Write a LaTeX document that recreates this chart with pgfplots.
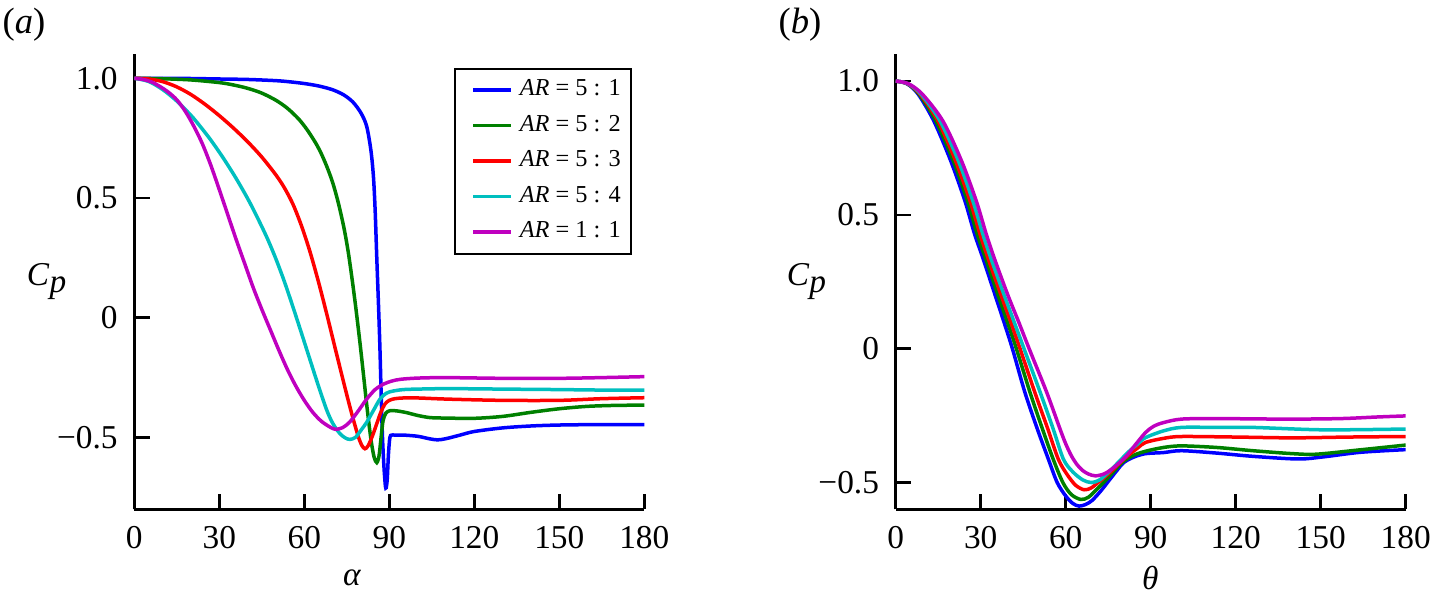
\documentclass[border=0pt]{standalone}
\usepackage{fontspec}
\setmainfont{Liberation Serif}
\usepackage{pgfplots}
\pgfplotsset{compat=1.18}

\definecolor{cblue}{rgb}{0,0,1}
\definecolor{cgreen}{rgb}{0,0.5,0}
\definecolor{cred}{rgb}{1,0,0}
\definecolor{ccyan}{rgb}{0,0.75,0.75}
\definecolor{cmag}{rgb}{0.75,0,0.75}

\newcommand{\Cp}{\textit{C}\raisebox{-2.2pt}{\fontsize{10}{12}\selectfont\textit{p}}}

\pgfplotsset{
  cpaxis/.style={
    scale only axis, width=153pt, height=136.5pt,
    axis lines=left,
    axis line style={-, line width=0.8pt, black},
    xmin=0, xmax=180, ymax=1.1,
    xtick={0,30,...,180},
    ytick={-0.5,0,0.5,1}, yticklabels={−0.5,0,0.5,1.0},
    tick align=inside, major tick length=4.7pt,
    every tick/.style={black, line width=0.8pt},
    tick label style={font=\fontsize{10}{12}\selectfont},
    /pgf/number format/assume math mode=true,
    xticklabel style={yshift=-1.5pt},
    yticklabel style={xshift=-1.5pt},
    every axis plot/.append style={line width=1.05pt, smooth, no markers},
    label style={font=\fontsize{12}{14}\selectfont},
  },
}

\begin{document}
\begin{tikzpicture}
\path[use as bounding box] (0,0) rectangle (429pt,180.6pt);

% panel labels
\node[anchor=west, inner sep=0pt, font=\fontsize{11}{13}\selectfont] at (0.6pt,173.1pt) {(\textit{a})};
\node[anchor=west, inner sep=0pt, font=\fontsize{11}{13}\selectfont] at (233.4pt,173.1pt) {(\textit{b})};

% (a) pressure coefficient against alpha
\begin{axis}[cpaxis,
  at={(40.29pt,27.81pt)}, anchor=south west,
  ymin=-0.8,
  xlabel={\textit{α}}, ylabel={\Cp},
  every axis x label/.style={at={(axis description cs:0.427,-0.151)}, anchor=center},
  every axis y label/.style={at={(axis description cs:-0.172,0.50)}, anchor=center},
  legend style={at={(0.976,0.971)}, anchor=north east, draw=black, line width=0.6pt,
    font=\fontsize{7.3}{8}\selectfont, inner xsep=3.1pt, inner ysep=3.1pt,
    row sep=3.95pt, column sep=2.1pt,
    nodes={inner sep=0pt, text height=5pt, text depth=1.7pt}},
  legend cell align=left,
  legend image code/.code={\path (-1.7pt,0pt); \draw[#1] (0pt,0pt) -- (11.4pt,0pt);},
]
\addplot[cblue] coordinates {
(0,1.0) (10,1.0) (20,0.999) (30,0.997) (40,0.995) (50,0.99) (55,0.985)
(60,0.978) (65,0.968) (70,0.952) (74,0.93) (77.2,0.90) (80,0.855) (82,0.80)
(83.5,0.70) (84.4,0.59) (85,0.45) (85.6,0.244) (86.2,0.05) (86.7,-0.13)
(87.2,-0.35) (87.6,-0.50) (88.1,-0.62) (88.6,-0.70) (88.9,-0.71) (89.3,-0.67)
(89.7,-0.57) (90.2,-0.50) (90.8,-0.49) (92,-0.49) (95,-0.49) (100,-0.495)
(104,-0.505) (107,-0.51) (110,-0.505) (115,-0.49) (120,-0.475) (130,-0.46)
(140,-0.452) (150,-0.448) (165,-0.446) (180,-0.446)
};
\addlegendentry{\textit{AR} = 5 : 1}
\addplot[cgreen] coordinates {
(0,1.0) (10,0.998) (20,0.993) (30,0.982) (35,0.972) (40,0.958) (45,0.938)
(50,0.908) (54,0.875) (58,0.83) (61,0.785) (64,0.73) (66,0.685) (68,0.63)
(70,0.565) (72,0.48) (74,0.375) (75.5,0.275) (77,0.15) (78.3,0.03) (79.7,-0.11)
(81,-0.25) (82,-0.36) (83,-0.46) (83.8,-0.53) (84.7,-0.585) (85.6,-0.605)
(86.4,-0.575) (87.1,-0.50) (87.8,-0.43) (88.8,-0.398) (90.3,-0.388)
(92.6,-0.389) (96,-0.396) (100,-0.408) (104.4,-0.417) (110,-0.419) (120,-0.42)
(130,-0.412) (140,-0.395) (150,-0.38) (160,-0.37) (170,-0.366) (180,-0.365)
};
\addlegendentry{\textit{AR} = 5 : 2}
\addplot[cred] coordinates {
(0,1.0) (5,0.997) (10,0.986) (15,0.964) (20,0.932) (25,0.891) (30,0.844)
(35,0.792) (40,0.735) (45,0.671) (50,0.596) (53,0.542) (56,0.474) (59,0.384)
(62,0.276) (65,0.15) (68,0.012) (70.2,-0.094) (72.5,-0.204) (75,-0.322)
(77,-0.412) (79,-0.494) (80.3,-0.533) (81.4,-0.547) (82.5,-0.535) (84,-0.495)
(85.5,-0.445) (87,-0.395) (88.5,-0.36) (90,-0.345) (92,-0.338) (95,-0.335)
(100,-0.335) (111,-0.34) (130,-0.345) (150,-0.345) (165,-0.338) (180,-0.334)
};
\addlegendentry{\textit{AR} = 5 : 3}
\addplot[ccyan] coordinates {
(0,1.0) (5,0.987) (10,0.953) (15,0.905) (20,0.845) (23.2,0.80) (27,0.742)
(31,0.674) (35,0.60) (38,0.54) (40.9,0.478) (44,0.405) (47,0.33) (50,0.245)
(53,0.15) (56,0.045) (59.7,-0.09) (62,-0.175) (65,-0.285) (67.9,-0.385)
(70,-0.44) (72.5,-0.483) (74.5,-0.502) (76.1,-0.508) (78,-0.50) (80,-0.47)
(82,-0.437) (84.5,-0.385) (86.7,-0.34) (89,-0.315) (91.4,-0.306) (95,-0.30)
(100,-0.298) (111,-0.296) (130,-0.298) (150,-0.30) (165,-0.302) (180,-0.302)
};
\addlegendentry{\textit{AR} = 5 : 4}
\addplot[cmag] coordinates {
(0,1.0) (3,0.995) (6,0.985) (9,0.966) (12,0.942) (15,0.91) (18,0.862)
(21,0.80) (24,0.727) (27,0.637) (30,0.535) (33,0.43) (36,0.325) (39,0.225)
(42,0.125) (45,0.035) (48,-0.05) (51,-0.135) (54,-0.215) (57,-0.285)
(60,-0.345) (63,-0.395) (66,-0.432) (69,-0.456) (71,-0.466) (73.5,-0.459)
(76,-0.436) (79,-0.39) (82,-0.34) (85,-0.30) (88,-0.277) (91,-0.264)
(94,-0.257) (100,-0.252) (110,-0.25) (130,-0.253) (150,-0.253) (165,-0.25)
(180,-0.246)
};
\addlegendentry{\textit{AR} = 1 : 1}
\end{axis}

% (b) pressure coefficient against theta
\begin{axis}[cpaxis,
  at={(268.71pt,27.81pt)}, anchor=south west,
  ymin=-0.6,
  xlabel={\textit{θ}}, ylabel={\Cp},
  every axis x label/.style={at={(axis description cs:0.499,-0.151)}, anchor=center},
  every axis y label/.style={at={(axis description cs:-0.175,0.50)}, anchor=center},
]
\addplot[cblue] coordinates {
(0,1.0) (4,0.99) (8,0.95) (13.5,0.85) (19.5,0.70) (24.5,0.55) (27.8,0.43)
(30.9,0.335) (35.1,0.20) (38.2,0.10) (41.2,0.0) (45.6,-0.163) (50,-0.30)
(53.9,-0.413) (57,-0.50) (60,-0.55) (62.5,-0.578) (64.7,-0.588) (67,-0.582)
(69.3,-0.567) (72.5,-0.53) (75.6,-0.488) (78.3,-0.452) (80.5,-0.425)
(84,-0.405) (88.2,-0.392) (94.5,-0.388) (100.8,-0.381) (113.4,-0.390)
(126,-0.402) (142,-0.412) (151,-0.404) (164,-0.387) (180,-0.377)
};
\addplot[cgreen] coordinates {
(0,1.0) (4.1,0.99) (8.35,0.95) (14.2,0.85) (20.4,0.70) (25.4,0.55) (28.7,0.43)
(31.8,0.335) (36.1,0.20) (39.4,0.10) (42.6,0.0) (47.4,-0.163) (51.8,-0.30)
(55.6,-0.413) (59,-0.50) (62,-0.545) (65.3,-0.563) (68,-0.555) (71.5,-0.52)
(75.6,-0.475) (78.5,-0.44) (80.5,-0.42) (84,-0.398) (88.2,-0.383) (94.5,-0.369)
(100.8,-0.363) (113.4,-0.369) (126,-0.381) (140,-0.392) (148.6,-0.394)
(163.7,-0.378) (180,-0.36)
};
\addplot[cred] coordinates {
(0,1.0) (4.2,0.99) (8.7,0.95) (15.0,0.85) (21.2,0.70) (26.3,0.55) (29.7,0.43)
(32.7,0.335) (37.2,0.20) (40.6,0.10) (43.9,0.0) (49.1,-0.163) (53.7,-0.30)
(57.4,-0.413) (60.5,-0.47) (63.5,-0.51) (66.5,-0.527) (69,-0.52) (72,-0.495)
(75.6,-0.463) (79,-0.428) (81.9,-0.40) (85.5,-0.37) (88.2,-0.35) (94.5,-0.335)
(100.8,-0.328) (120,-0.33) (140,-0.333) (160,-0.33) (180,-0.328)
};
\addplot[ccyan] coordinates {
(0,1.0) (4.35,0.99) (9.05,0.95) (15.7,0.85) (22.2,0.70) (27.3,0.55) (30.7,0.43)
(33.7,0.335) (38.3,0.20) (41.8,0.10) (45.3,0.0) (51.0,-0.163) (55.6,-0.30)
(59.2,-0.413) (62.5,-0.46) (66,-0.49) (69,-0.50) (72,-0.49) (75.6,-0.456)
(79,-0.42) (81.9,-0.388) (85.5,-0.355) (88.2,-0.332) (94.5,-0.307)
(100.8,-0.294) (113.4,-0.294) (126,-0.294) (151,-0.303) (180,-0.30)
};
\addplot[cmag] coordinates {
(0,1.0) (4.5,0.99) (9.5,0.95) (16.7,0.85) (23.3,0.70) (28.5,0.55) (31.9,0.43)
(34.9,0.335) (39.6,0.20) (43.4,0.10) (47.1,0.0) (53.3,-0.163) (58,-0.30)
(60,-0.355) (62,-0.40) (64,-0.433) (66,-0.455) (68,-0.468) (70.5,-0.475)
(73.5,-0.468) (76,-0.452) (78.5,-0.43) (81.5,-0.40) (84.5,-0.36) (88.2,-0.313)
(91,-0.29) (94.5,-0.276) (100.8,-0.263) (113,-0.261) (138,-0.263) (157,-0.261)
(170,-0.255) (180,-0.251)
};
\end{axis}
\end{tikzpicture}
\end{document}
